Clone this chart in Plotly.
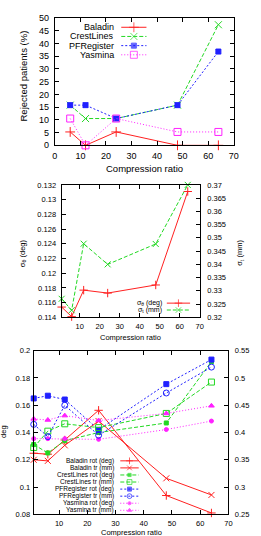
import plotly.graph_objects as go

W, H = 261, 536
FONT = "Liberation Sans, Arial, sans-serif"

# ---------------- data ----------------
top_ratio = [6, 12, 24, 48, 64]
rej_baladin = [5.26, 0.0, 5.26, 0.0, 0.0]
rej_crest = [15.79, 10.53, 10.53, 15.79, 47.37]
rej_pfr = [15.79, 15.79, 10.53, 15.79, 36.84]
rej_yasmina = [10.53, 0.0, 10.53, 5.26, 5.26]
top_names = ["Baladin", "CrestLines", "PFRegister", "Yasmina"]

ratio = [1, 6, 12, 24, 48, 64]
sigma_theta = [0.1154, 0.1141, 0.1177, 0.1173, 0.1184, 0.1311]
sigma_t = [0.3270, 0.3227, 0.3478, 0.3400, 0.3477, 0.3700]
mid_names = ["σ<sub>θ</sub> (deg)", "σ<sub>t</sub> (mm)"]

baladin_rot = [0.1248, 0.1241, 0.1345, 0.1563, 0.0938, 0.0810]
baladin_tr = [0.350, 0.348, 0.3765, 0.421, 0.316, 0.2855]
crest_rot = [0.1312, 0.1250, 0.1340, 0.1400, 0.1470, 0.1920]
crest_tr = [0.3725, 0.4025, 0.416, 0.409, 0.435, 0.4925]
pfr_rot = [0.1650, 0.1670, 0.1642, 0.1420, 0.1755, 0.1935]
pfr_tr = [0.415, 0.3925, 0.450, 0.395, 0.4725, 0.520]
yas_rot = [0.1355, 0.1355, 0.1355, 0.1350, 0.1422, 0.1484]
yas_tr = [0.425, 0.423, 0.431, 0.422, 0.435, 0.449]
bot_names = ["Baladin rot (deg)", "Baladin tr (mm)", "CrestLines rot (deg)",
             "CrestLines tr (mm)", "PFRegister rot (deg)", "PFRegister tr (mm)",
             "Yasmina rot (deg)", "Yasmina tr (mm)"]

RED, GREEN, BLUE, MAG = "#ff2020", "#22d822", "#2020ff", "#ff20ff"
DASH_G, DASH_B, DASH_M = "4px,2px", "2px,2px", "1px,2px"


def px(x):
    return x / W


def py(y):
    return 1 - y / H


fig = go.Figure()


def add(x, y, xa, ya, color, dash, symbol, size, name):
    fig.add_trace(go.Scatter(
        x=x, y=y, xaxis=xa, yaxis=ya, mode="lines+markers", name=name,
        showlegend=False, cliponaxis=False,
        line=dict(color=color, width=1, dash=dash),
        marker=dict(symbol=symbol, size=size, color=color,
                    line=dict(color=color, width=1))))


# ---- top chart
top_styles = [(RED, "solid", "cross-thin-open", 7),
              (GREEN, DASH_G, "x-thin-open", 7),
              (BLUE, DASH_B, "square-x", 5),
              (MAG, DASH_M, "square-open", 7)]
for vals, st, nm in zip([rej_baladin, rej_crest, rej_pfr, rej_yasmina], top_styles, top_names):
    add(top_ratio, vals, "x", "y", st[0], st[1], st[2], st[3], nm)

# ---- middle chart
mid_styles = [(RED, "solid", "cross-thin-open", 6),
              (GREEN, DASH_G, "x-thin-open", 6)]
add(ratio, sigma_theta, "x2", "y2", *mid_styles[0], mid_names[0])
add(ratio, sigma_t, "x2", "y3", *mid_styles[1], mid_names[1])

# ---- bottom chart
bot_styles = [(RED, "solid", "cross-thin-open", 6),
              (RED, "solid", "x-thin-open", 6),
              (GREEN, DASH_G, "square", 4),
              (GREEN, DASH_G, "square-open", 6),
              (BLUE, DASH_B, "square", 5),
              (BLUE, DASH_B, "circle-open", 6),
              (MAG, DASH_M, "circle", 4),
              (MAG, DASH_M, "triangle-up", 5)]
bot_series = [baladin_rot, baladin_tr, crest_rot, crest_tr, pfr_rot, pfr_tr, yas_rot, yas_tr]
bot_axes = ["y4", "y5", "y4", "y5", "y4", "y5", "y4", "y5"]
for vals, st, ya, nm in zip(bot_series, bot_styles, bot_axes, bot_names):
    add(ratio, vals, "x3", ya, st[0], st[1], st[2], st[3], nm)

annotations = []


def legend(names, styles, text_right, s0, s1, y0, dy, fsize, mscale):
    for i, (nm, st) in enumerate(zip(names, styles)):
        yy = y0 + i * dy
        xc = (s0 + s1) / 2
        fig.add_trace(go.Scatter(
            x=[s0, xc, s1], y=[yy, yy, yy], xaxis="x4", yaxis="y6",
            mode="lines+markers", showlegend=False, cliponaxis=False, hoverinfo="skip",
            line=dict(color=st[0], width=1, dash=st[1]),
            marker=dict(symbol=st[2], size=[0, st[3] * mscale, 0], color=st[0],
                        line=dict(color=st[0], width=1))))
        annotations.append(dict(x=px(text_right), y=py(yy), xref="paper", yref="paper",
                                text=nm, showarrow=False, xanchor="right", yanchor="middle",
                                font=dict(size=fsize, color="black", family=FONT)))


legend(top_names, top_styles, 116.5, 122, 148, 22.7, 9.35, 9, 1.0)
legend(mid_names, mid_styles, 166.5, 169, 193, 303.8, 7.0, 7, 0.9)
legend(bot_names, bot_styles, 117, 121, 140, 464.5, 7.2, 6.5, 0.8)


def title(text, x, y, size, angle=0):
    annotations.append(dict(x=px(x), y=py(y), xref="paper", yref="paper", text=text,
                            showarrow=False, xanchor="center", yanchor="middle",
                            textangle=angle, font=dict(size=size, color="black", family=FONT)))


title("Compression ratio", 145.5, 167, 9.5)
title("Rejected patients (%)", 21.5, 72, 9.5, -90)
title("Compression ratio", 132, 339, 7.5)
title("σ<sub>θ</sub> (deg)", 20, 252.5, 7.5, -90)
title("σ<sub>t</sub> (mm)", 245, 252, 7.5, -90)
title("Compression ratio", 132.5, 537.5, 7.5)
title("deg", 0.5, 434.5, 7.5, -90)


def ax(**kw):
    base = dict(showline=True, linecolor="black", linewidth=1, ticks="inside",
                ticklen=4, tickcolor="black", tickwidth=1, showgrid=False,
                zeroline=False, fixedrange=True)
    base.update(kw)
    return base


fig.update_layout(
    width=W, height=H, autosize=False,
    margin=dict(l=0, r=0, t=0, b=0, pad=0),
    paper_bgcolor="white", plot_bgcolor="rgba(0,0,0,0)",
    font=dict(family=FONT, color="black"),
    showlegend=False,
    xaxis=ax(domain=[px(53.5), px(238)], anchor="y", range=[0, 70], dtick=10,
             mirror="ticks", tickfont=dict(size=9), ticklabelstandoff=2),
    yaxis=ax(domain=[py(143), py(13.3)], anchor="x", range=[0, 50], dtick=5,
             mirror="ticks", tickfont=dict(size=9), ticklabelstandoff=3),
    xaxis2=ax(domain=[px(60.5), px(203)], anchor="y2", range=[1, 70], tick0=0, dtick=10,
              mirror="ticks", tickfont=dict(size=7.5), ticklabelstandoff=2),
    yaxis2=ax(domain=[py(318.3), py(183.3)], anchor="x2", range=[0.114, 0.132], dtick=0.002,
              mirror=True, tickfont=dict(size=7.5), ticklabelstandoff=3),
    yaxis3=ax(overlaying="y2", side="right", anchor="x2", range=[0.32, 0.37], dtick=0.005,
              tickfont=dict(size=7.5), ticklabelstandoff=5),
    xaxis3=ax(domain=[px(31.7), px(232.5)], anchor="y4", range=[1, 70], tick0=0, dtick=10,
              mirror="ticks", tickfont=dict(size=7.5), ticklabelstandoff=2),
    yaxis4=ax(domain=[py(519), py(352.3)], anchor="x3", range=[0.08, 0.2], dtick=0.02,
              mirror=True, tickfont=dict(size=7.5), ticklabelstandoff=1),
    yaxis5=ax(overlaying="y4", side="right", anchor="x3", range=[0.25, 0.55], dtick=0.05,
              tickfont=dict(size=7.5), ticklabelstandoff=4),
    xaxis4=dict(domain=[0, 1], anchor="y6", range=[0, W], visible=False, fixedrange=True),
    yaxis6=dict(domain=[0, 1], anchor="x4", range=[H, 0], visible=False, fixedrange=True),
    annotations=annotations,
)

fig.write_html("out.html")
